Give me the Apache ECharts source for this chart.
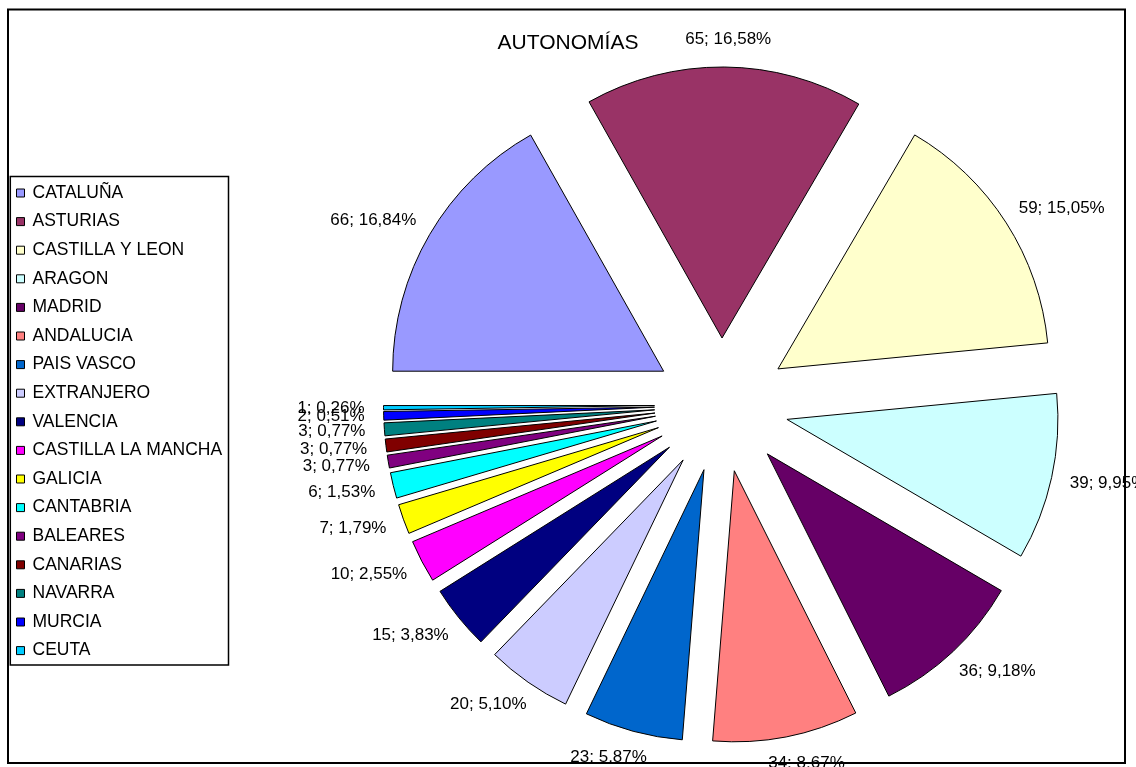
<!DOCTYPE html>
<html><head><meta charset="utf-8">
<script src="https://cdn.jsdelivr.net/npm/echarts@6/dist/echarts.min.js"></script>
<style>html,body{margin:0;padding:0;background:#fff}#c{width:1136px;height:767px}</style>
</head><body><div id="c"></div>
<script>
const titleText = 'AUTONOMÍAS';
const categories = ['CATALUÑA','ASTURIAS','CASTILLA Y LEON','ARAGON','MADRID','ANDALUCIA','PAIS VASCO','EXTRANJERO','VALENCIA','CASTILLA LA MANCHA','GALICIA','CANTABRIA','BALEARES','CANARIAS','NAVARRA','MURCIA','CEUTA'];
const values = [66,65,59,39,36,34,23,20,15,10,7,6,3,3,3,2,1];
const colors = ['#9999FF','#993366','#FFFFCC','#CCFFFF','#660066','#FF8080','#0066CC','#CCCCFF','#000080','#FF00FF','#FFFF00','#00FFFF','#800080','#800000','#008080','#0000FF','#00CCFF'];

const total = values.reduce((a, b) => a + b, 0);
const CX = 721.5, CY = 405, R = 271, OFF = 67, GAP = 19, START = 180;
const FONT = "'Liberation Sans', Arial, sans-serif";

function pct(v) { return (v / total * 100).toFixed(2).replace('.', ',') + '%'; }

// Excel-like label placement: outside the exploded slice, centred on the label box
function labelPos(params) {
  const i = params.dataIndex;
  let before = 0;
  for (let k = 0; k < i; k++) before += values[k];
  const a = (START - (before + values[i] / 2) / total * 360) * Math.PI / 180;
  const dx = Math.cos(a), dy = -Math.sin(a);
  const px = CX + (OFF + R) * dx, py = CY + (OFF + R) * dy;
  const hw = params.labelRect.width / 2, hh = params.labelRect.height / 2;
  return {
    x: px + dx * GAP + hw * Math.sign(dx) * Math.sqrt(Math.abs(dx)),
    y: py + dy * GAP + hh * dy,
    align: 'center',
    verticalAlign: 'middle'
  };
}

const common = {
  type: 'pie',
  center: [CX, CY],
  radius: R,
  startAngle: START,
  clockwise: true,
  avoidLabelOverlap: false,
  emphasis: {scale: false}
};

const chart = echarts.init(document.getElementById('c'), null, {renderer: 'canvas'});
chart.setOption({
  animation: false,
  backgroundColor: '#fff',
  title: {
    text: titleText, left: 'center', top: 28,
    textStyle: {fontSize: 21, fontWeight: 'normal', color: '#000', fontFamily: FONT}
  },
  legend: {
    orient: 'vertical', left: 16, top: 184, padding: 0,
    itemWidth: 8, itemHeight: 8, itemGap: 10.6, icon: 'rect',
    selectedMode: false,
    itemStyle: {borderColor: '#000', borderWidth: 1},
    textStyle: {fontSize: 17.5, color: '#000', fontFamily: FONT, padding: [0, 0, 0, 3]},
    data: categories
  },
  graphic: [
    {type: 'rect', z: 100, silent: true, shape: {x: 10.3, y: 176.5, width: 218.2, height: 488.5},
     style: {fill: null, stroke: '#000', lineWidth: 1.5}},
    {type: 'rect', z: 100, silent: true, shape: {x: 8, y: 9.5, width: 1117, height: 753.5},
     style: {fill: null, stroke: '#000', lineWidth: 2}}
  ],
  series: [
    Object.assign({}, common, {
      name: 'slices',
      selectedMode: 'multiple',
      selectedOffset: OFF,
      itemStyle: {borderColor: '#000', borderWidth: 1},
      label: {show: false},
      labelLine: {show: false},
      data: categories.map((n, i) => ({name: n, value: values[i], selected: true, itemStyle: {color: colors[i]}}))
    }),
    Object.assign({}, common, {
      name: 'labels',
      silent: true,
      z: 3,
      selectedMode: false,
      itemStyle: {color: 'rgba(0,0,0,0)', borderWidth: 0},
      label: {
        show: true, position: 'outside',
        formatter: p => p.value + '; ' + pct(p.value),
        fontSize: 17, color: '#000', fontFamily: FONT
      },
      labelLine: {show: false},
      labelLayout: labelPos,
      data: categories.map((n, i) => ({name: n, value: values[i]}))
    })
  ]
});
</script></body></html>
